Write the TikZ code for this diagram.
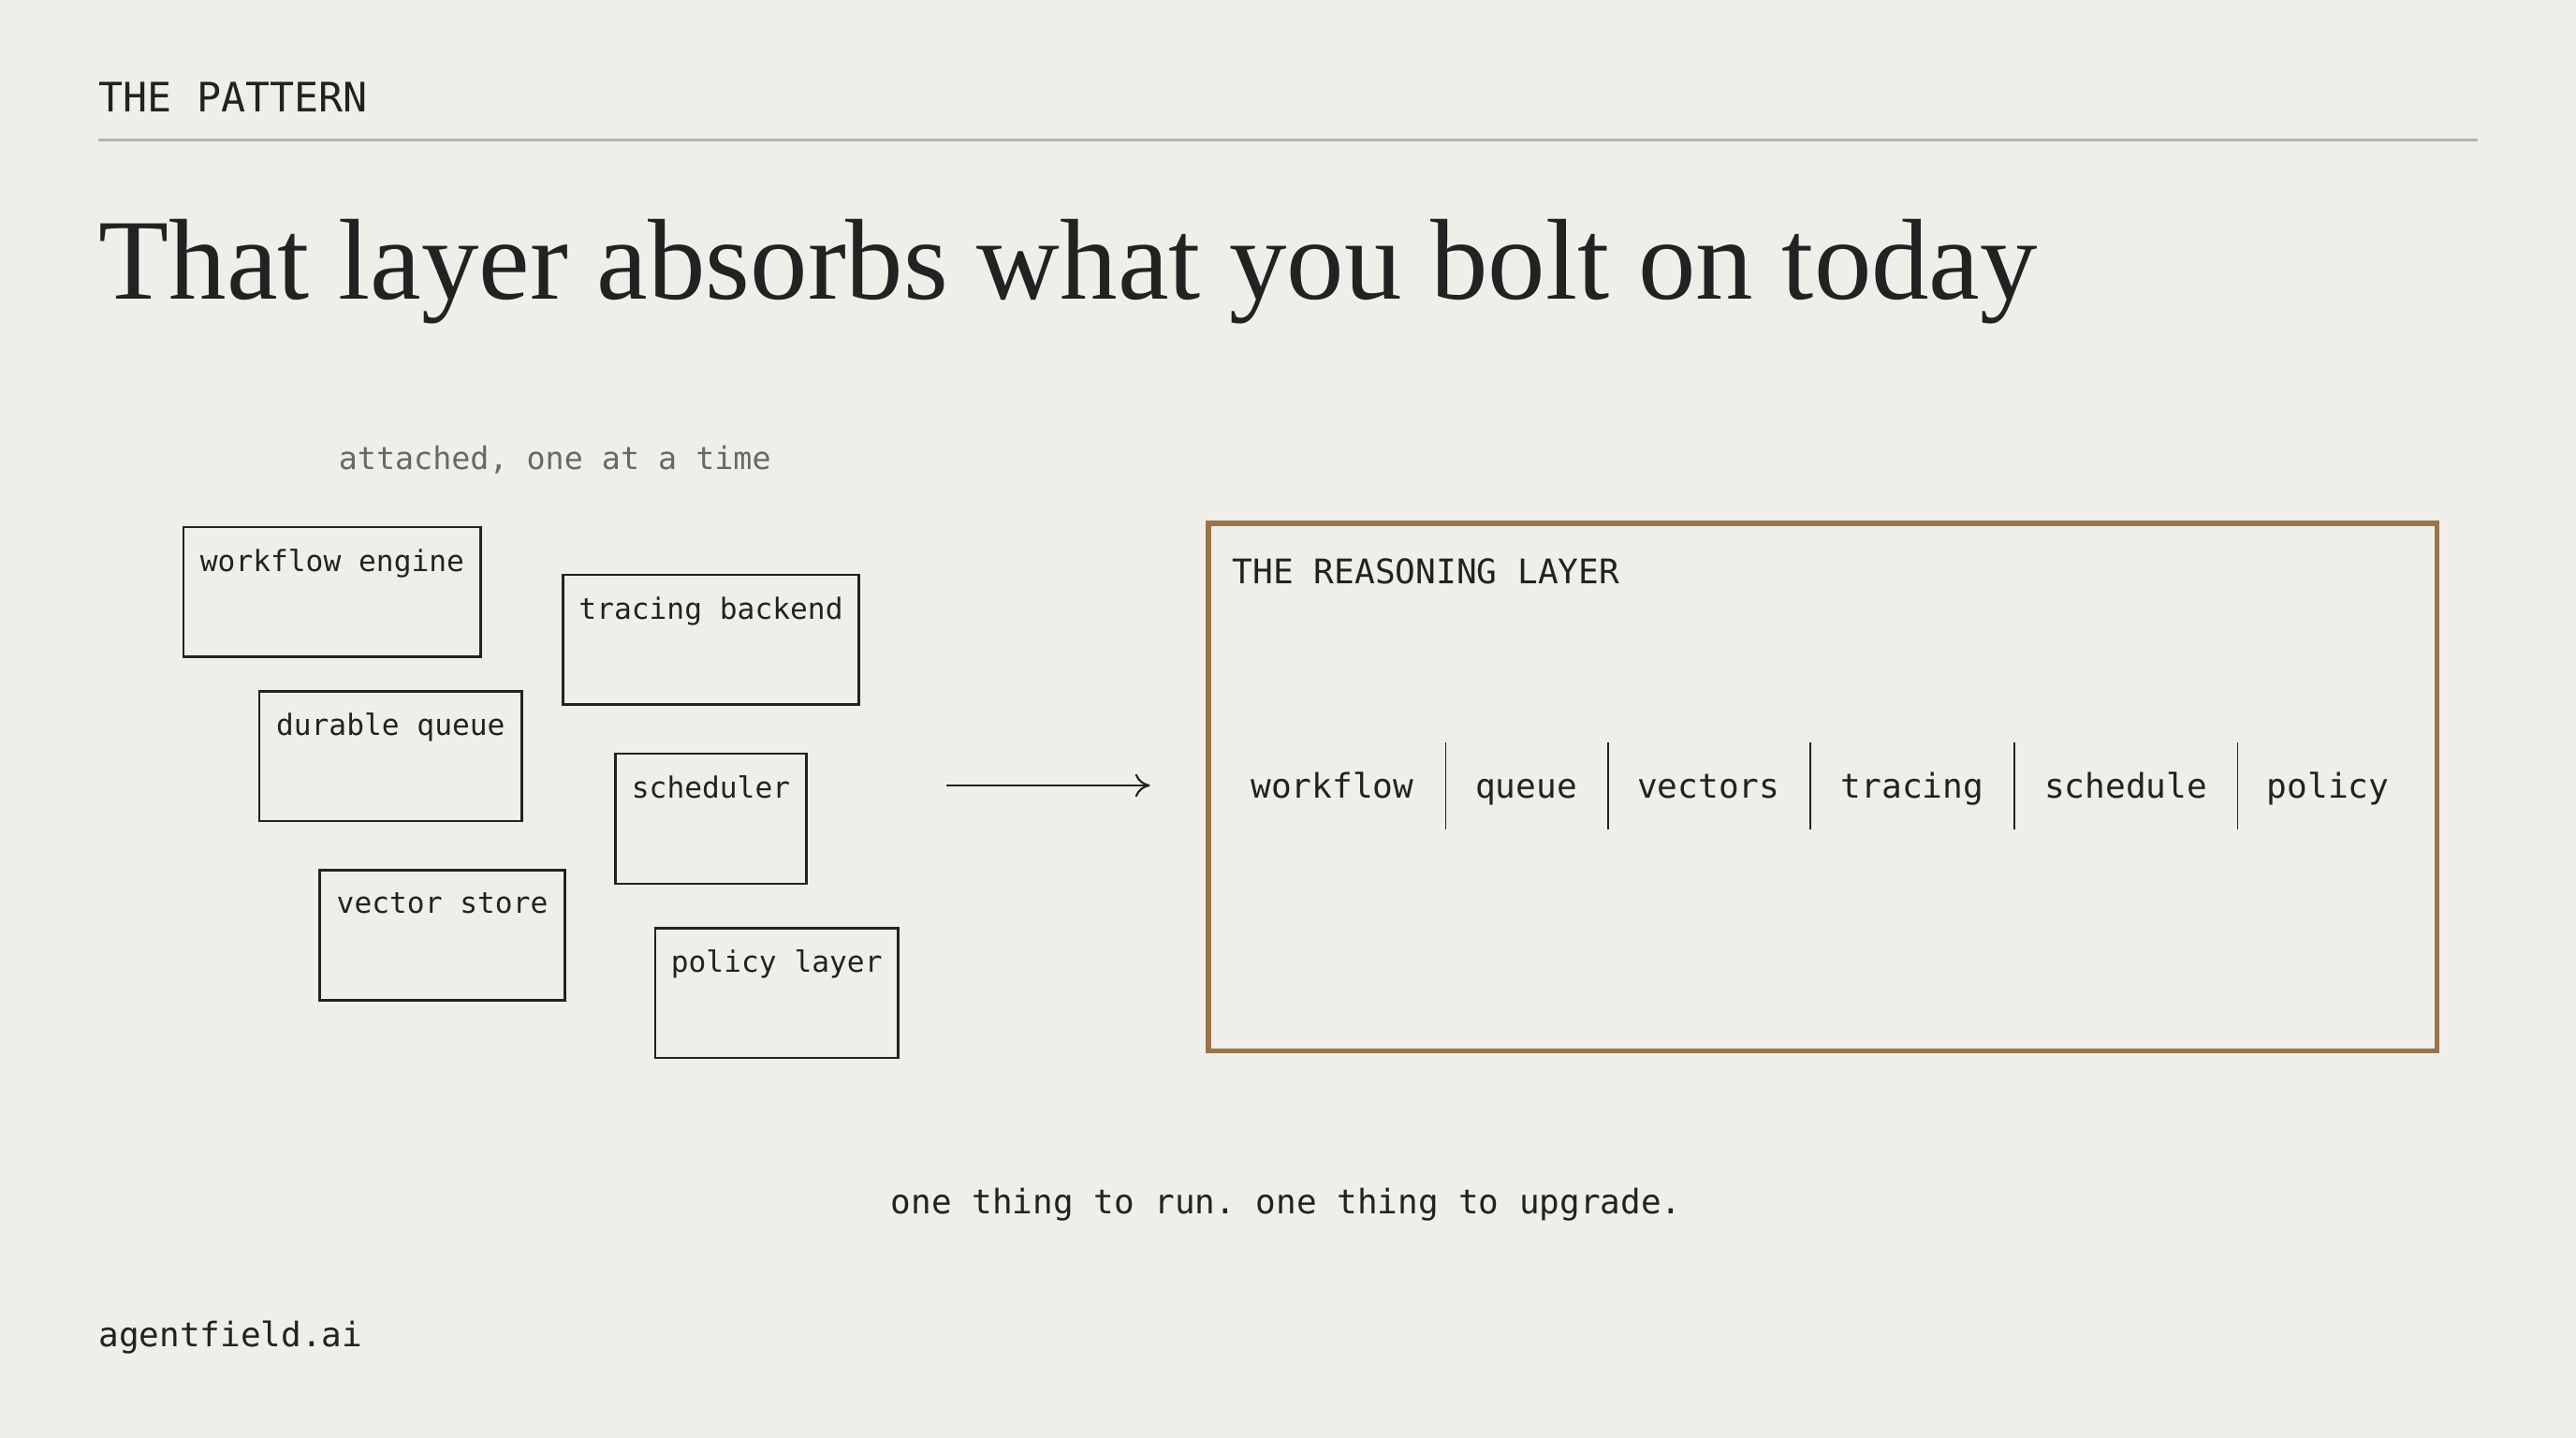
\documentclass[tikz,border=0pt]{standalone}
\usepackage{fontspec}
\setmainfont{Liberation Serif}
\setmonofont{DejaVu Sans Mono}
\usetikzlibrary{positioning,arrows.meta}
\definecolor{paper}{HTML}{EFEEE9}
\definecolor{ink}{HTML}{222222}
\definecolor{rulegrey}{HTML}{B4B2AA}
\definecolor{bronze}{HTML}{9A7448}
\definecolor{muted}{HTML}{6A6862}
\tikzset{
  tool/.style={draw=ink, line width=1.5pt, anchor=north west, inner sep=0pt},
  tooltext/.style={font=\fontsize{17.8}{20}\selectfont\ttfamily, text=ink, anchor=north, inner sep=0pt},
  part/.style={font=\fontsize{20.6}{24}\selectfont\ttfamily, text=ink, inner sep=0pt, anchor=base},
  sep/.style={draw=ink, line width=1pt}
}
\begin{document}
\begin{tikzpicture}[x=1pt, y=-1pt]
    \fill [paper] (0,0) rectangle (1568,875);
    \useasboundingbox (0,0) rectangle (1568,875);
    % header
    \node [font=\fontsize{24.7}{28}\selectfont\ttfamily, text=ink, anchor=west, inner sep=0pt] (kicker) at (60,59) {THE PATTERN};
    \draw [rulegrey, line width=1.5pt] (60,85) -- (1508,85);
    \node [font=\fontsize{70}{74}\selectfont, text=ink, anchor=base west, inner sep=0pt] (title) at (60,182) {That layer absorbs what you bolt on today};
    % the bolted-on pieces
    \node [font=\fontsize{19}{22}\selectfont\ttfamily, text=muted, anchor=west, inner sep=0pt] (attached) at (206,280) {attached, one at a time};
    \node [tool, minimum width=181pt, minimum height=79pt] (wf) at (111,320) {};
    \node [tooltext, below=14pt of wf.north] (wft) {workflow engine};
    \node [tool, minimum width=180pt, minimum height=79pt] (tb) at (342,349) {};
    \node [tooltext, below=14pt of tb.north] (tbt) {tracing backend};
    \node [tool, minimum width=160pt, minimum height=79pt] (dq) at (157,420) {};
    \node [tooltext, below=14pt of dq.north] (dqt) {durable queue};
    \node [tool, minimum width=116pt, minimum height=79pt] (sc) at (374,458) {};
    \node [tooltext, below=14pt of sc.north] (sct) {scheduler};
    \node [tool, minimum width=149pt, minimum height=79pt] (vs) at (194,529) {};
    \node [tooltext, below=14pt of vs.north] (vst) {vector store};
    \node [tool, minimum width=148pt, minimum height=79pt] (pl) at (398,564) {};
    \node [tooltext, below=14pt of pl.north] (plt) {policy layer};
    % arrow into the layer
    \coordinate (from) at (576,478);
    \coordinate (to) at (700,478);
    \node [draw=bronze, line width=3pt, anchor=north west, minimum width=748pt, minimum height=321pt, inner sep=0pt] (layer) at (734,317) {};
    \draw [ink, line width=1.2pt, -{To[length=9pt,width=14pt]}] (from) -- (to);
    \node [font=\fontsize{20.6}{24}\selectfont\ttfamily, text=ink, anchor=west, inner sep=0pt] (layert) at (750,348) {THE REASONING LAYER};
    % what it absorbs
    \node [part] (p1) at (811,486) {workflow};
    \node [part] (p2) at (929,486) {queue};
    \node [part] (p3) at (1040,486) {vectors};
    \node [part] (p4) at (1164,486) {tracing};
    \node [part] (p5) at (1294,486) {schedule};
    \node [part] (p6) at (1417,486) {policy};
    \foreach \x in {880,979,1102,1226,1362}
        \draw [sep] (\x,452) -- (\x,505);
    % footer
    \node [font=\fontsize{20.5}{24}\selectfont\ttfamily, text=ink] (tagline) at (783,733) {one thing to run. one thing to upgrade.};
    \node [font=\fontsize{20.5}{24}\selectfont\ttfamily, text=ink, anchor=west, inner sep=0pt] (site) at (60,814) {agentfield.ai};
\end{tikzpicture}
\end{document}
